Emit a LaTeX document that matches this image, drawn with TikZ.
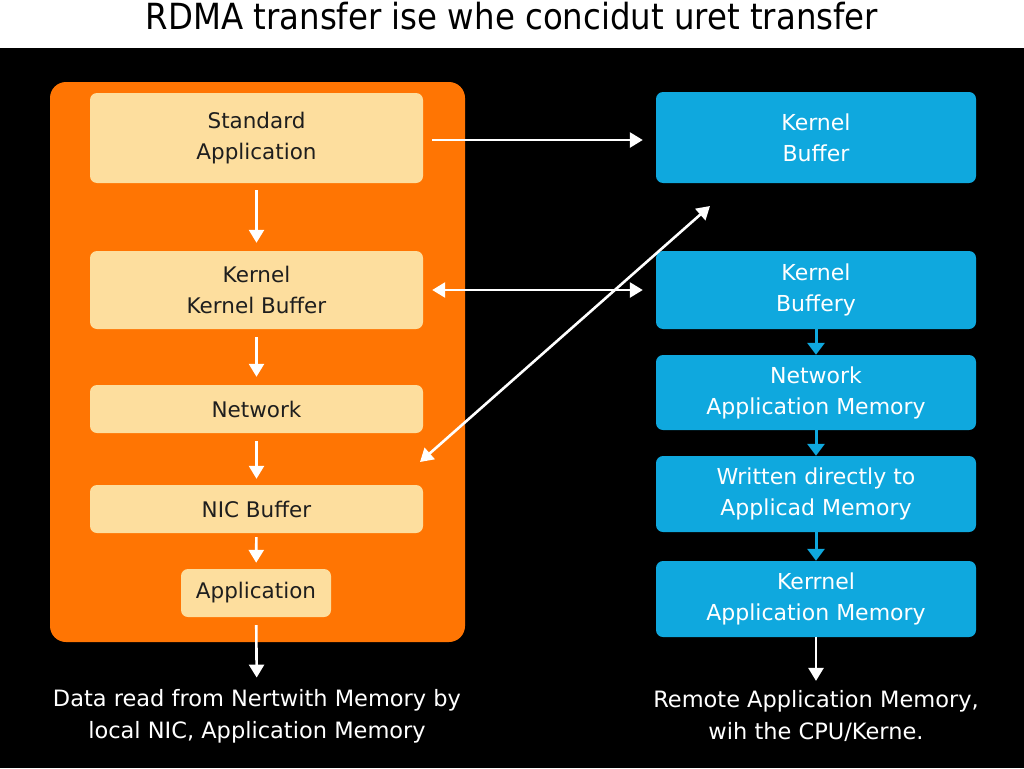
\documentclass[tikz,border=0pt]{standalone}
\usepackage{fontspec}
\setmainfont{DejaVu Sans}
\newfontfamily\titlefont{DejaVu Sans Condensed}
\usetikzlibrary{arrows.meta}

\definecolor{panelorange}{HTML}{FF7503}
\definecolor{boxyellow}{HTML}{FDDE9E}
\definecolor{boxblue}{HTML}{0FA8DE}
\definecolor{textdark}{HTML}{1E1E1E}

\begin{document}
\begin{tikzpicture}
        [x=1pt, y=-1pt, >={Triangle[width=15pt, length=13pt]},
         lbox/.style={rectangle, rounded corners=7pt, fill=boxyellow, text=textdark, minimum width=333pt, align=center, font=\fontsize{21.5}{31}\selectfont},
         rbox/.style={rectangle, rounded corners=7pt, fill=boxblue, text=white, minimum width=320pt, align=center, font=\fontsize{22}{31}\selectfont},
         wline/.style={draw=white, line width=2.6pt},
         bline/.style={draw=boxblue, line width=3pt, >={Triangle[width=17pt, length=12pt]}},
         caption/.style={text=white, align=center, font=\fontsize{22.5}{32}\selectfont}]

        \useasboundingbox (0, 0) rectangle (1024, 768);
        \fill[white] (0, 0) rectangle (1024, 48);
        \fill[black] (0, 48) rectangle (1024, 768);

        \node[font=\titlefont\fontsize{36}{40}\selectfont] (title) at (512, 16) {RDMA transfer ise whe concidut uret transfer};

        % left side
        \fill[panelorange, rounded corners=16pt] (50, 82) rectangle (465, 642);

        \node[lbox, minimum height=90pt] (lstd) at (256.5, 138) {Standard\\Application};
        \node[lbox, minimum height=78pt] (lkern) at (256.5, 290) {Kernel\\Kernel Buffer};
        \node[lbox, minimum height=48pt] (lnet) at (256.5, 409) {Network};
        \node[lbox, minimum height=48pt] (lnic) at (256.5, 509) {NIC Buffer};
        \node[lbox, minimum width=150pt, minimum height=48pt] (lapp) at (256, 593) {Application};

        \draw[wline, ->, shorten <=7pt, shorten >=8pt] (lstd) -- (lkern);
        \draw[wline, ->, shorten <=8pt, shorten >=8pt] (lkern) -- (lnet);
        \draw[wline, ->, shorten <=8pt, shorten >=6pt] (lnet) -- (lnic);
        \draw[wline, ->, shorten <=4pt, shorten >=6pt] (lnic) -- (lapp);

        \node[caption] (lcap) at (257, 716) {Data read from Nertwith Memory by\\local NIC, Application Memory};
        \draw[wline, ->, shorten <=8pt, shorten >=8pt] (lapp) -- (lcap);

        % right side
        \node[rbox, minimum height=91pt] (rkb) at (816, 137.5) {Kernel\\Buffer};
        \node[rbox, minimum height=78pt] (rkb2) at (816, 290) {Kernel\\Buffery};
        \node[rbox, minimum height=75pt] (rnet) at (816, 392.5) {Network\\Application Memory};
        \node[rbox, minimum height=76pt] (rwrit) at (816, 494) {Written directly to\\Applicad Memory};
        \node[rbox, minimum height=76pt] (rkern) at (816, 599) {Kerrnel\\Application Memory};

        \draw[bline, ->] (rkb2) -- (rnet);
        \draw[bline, ->] (rnet) -- (rwrit);
        \draw[bline, ->] (rwrit) -- (rkern);

        \node[caption] (rcap) at (816, 716) {Remote Application Memory,\\wih the CPU/Kerne.};
        \draw[wline, ->, shorten >=6pt] (rkern) -- (rcap);

        % transfers
        \coordinate (dl) at (420, 462);
        \coordinate (dr) at (710, 206);
        \draw[wline, ->, shorten <=9pt, shorten >=13pt] (lstd.east |- 0, 140) -- (rkb.west |- 0, 140);
        \draw[wline, <->, shorten <=9pt, shorten >=13pt] (lkern.east) -- (rkb2.west);
        \draw[wline, <->] (dl) -- (dr);
    \end{tikzpicture}
\end{document}
